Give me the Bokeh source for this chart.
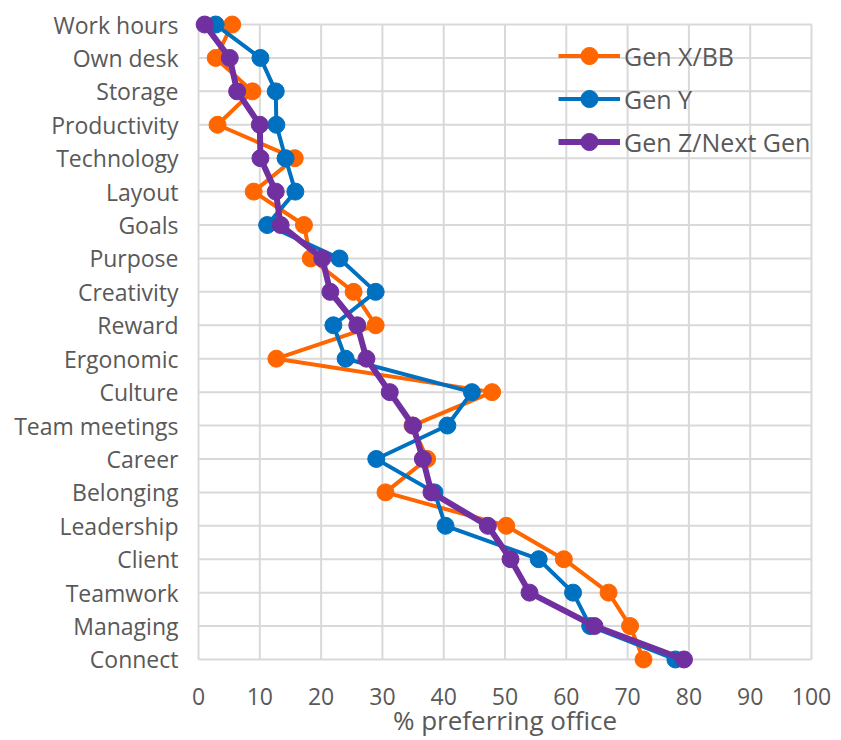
from bokeh.plotting import figure
from bokeh.models import Range1d, FixedTicker, Legend, LegendItem
from bokeh.embed import file_html
from bokeh.resources import INLINE

categories = ["Work hours", "Own desk", "Storage", "Productivity", "Technology",
              "Layout", "Goals", "Purpose", "Creativity", "Reward", "Ergonomic",
              "Culture", "Team meetings", "Career", "Belonging", "Leadership",
              "Client", "Teamwork", "Managing", "Connect"]
gen_x_bb = [5.5, 2.8, 8.8, 3.1, 15.7, 9.0, 17.2, 18.3, 25.3, 28.9, 12.7, 47.9,
            34.9, 37.3, 30.5, 50.2, 59.6, 66.9, 70.4, 72.6]
gen_y = [2.8, 10.1, 12.6, 12.7, 14.2, 15.8, 11.2, 23.0, 28.9, 22.0, 24.0, 44.6,
         40.6, 29.0, 38.5, 40.3, 55.5, 61.1, 63.9, 77.8]
gen_z = [1.0, 5.1, 6.3, 10.0, 10.1, 12.6, 13.4, 20.2, 21.5, 25.9, 27.4, 31.2,
         35.0, 36.6, 38.0, 47.2, 50.9, 54.0, 64.6, 79.2]
series_names = ["Gen X/BB", "Gen Y", "Gen Z/Next Gen"]
x_ticks = list(range(0, 101, 10))

FONT = "Open Sans"
TXT = "#595959"
GRID = "#D9D9D9"
colors = ["#FF6600", "#0070C0", "#7030A0"]
widths = [4, 4, 6]

rows = list(range(len(categories)))
n = len(categories) - 1

p = figure(width=833, height=740, output_backend="svg", toolbar_location=None,
           x_range=Range1d(-1.96, 101.96), y_range=Range1d(n + 0.36, -0.36),
           min_border_left=186, min_border_right=10, min_border_top=12,
           min_border_bottom=66)
p.outline_line_color = None
p.background_fill_color = "white"
p.xgrid.grid_line_color = None
p.ygrid.grid_line_color = None

# grid lines restricted to the data extent
p.segment(x0=x_ticks, y0=[0] * len(x_ticks), x1=x_ticks, y1=[n] * len(x_ticks),
          line_color=GRID, line_width=2)
p.segment(x0=[0] * len(rows), y0=rows, x1=[100] * len(rows), y1=rows,
          line_color=GRID, line_width=2)

items = []
for vals, name, c, w in zip([gen_x_bb, gen_y, gen_z], series_names, colors, widths):
    r1 = p.line(vals, rows, line_color=c, line_width=w)
    r2 = p.scatter(vals, rows, size=17, fill_color=c, line_color=c)
    items.append(LegendItem(label=name, renderers=[r1, r2]))

legend = Legend(items=items, location=(372, 508), padding=0, margin=0, spacing=0,
                glyph_width=62, glyph_height=43, label_height=43, label_standoff=4,
                border_line_color=None, background_fill_alpha=0,
                label_text_font=FONT, label_text_font_size="25px",
                label_text_color=TXT)
p.add_layout(legend, "center")

p.xaxis.ticker = FixedTicker(ticks=x_ticks)
p.xaxis.axis_label = "% preferring office"
p.xaxis.axis_label_text_font = FONT
p.xaxis.axis_label_text_font_size = "26px"
p.xaxis.axis_label_text_font_style = "normal"
p.xaxis.axis_label_text_color = TXT
p.xaxis.axis_label_standoff = -6
p.xaxis.major_label_text_font = FONT
p.xaxis.major_label_text_font_size = "23px"
p.xaxis.major_label_text_color = TXT
p.xaxis.major_label_standoff = 10

p.yaxis.ticker = FixedTicker(ticks=rows)
p.yaxis.major_label_overrides = {i: c for i, c in enumerate(categories)}
p.yaxis.major_label_text_font = FONT
p.yaxis.major_label_text_font_size = "23px"
p.yaxis.major_label_text_color = TXT
p.yaxis.major_label_standoff = 2

for ax in (p.xaxis, p.yaxis):
    ax.axis_line_color = None
    ax.major_tick_line_color = None
    ax.minor_tick_line_color = None

open("out.html", "w").write(file_html(p, INLINE))
